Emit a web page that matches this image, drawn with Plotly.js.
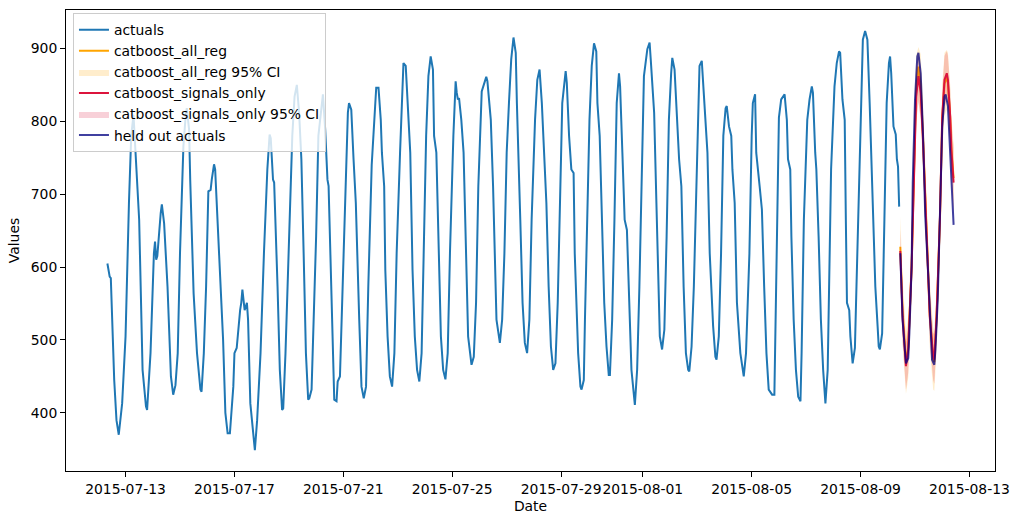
<!DOCTYPE html>
<html>
<head>
<meta charset="utf-8">
<script src="https://cdn.plot.ly/plotly-3.0.1.min.js"></script>
<style>
  html, body { margin: 0; padding: 0; background: #ffffff; }
  #chart { width: 1018px; height: 525px; }
</style>
</head>
<body>
<div id="chart"></div>
<script>
// Hours are counted from 2015-07-13 00:00
const baseDate = Date.UTC(2015, 6, 13, 0, 0, 0);

const actualHours = [-16,-14,-13,-10,-8,-6,-3,0,3,5,7,9,10,12,15,18,19,22,25,26,27,28,31,32,34,37,40,41,42,44,46,48,51,53,54,56,57,60,63,66,67,69,71,73,75,76,78,79,81,84,86,88,90,92,95,96,98,101,102,103,105,107,108,110,114,116,119,122,125,127,128,130,131,134,136,138,139,141,144,147,149,151,153,155,157,159,161,162,164,166,168,170,173,174,176,178,179,182,184,186,187,189,191,194,196,197,199,201,203,206,208,210,212,214,217,220,221,223,225,226,228,229,231,233,235,237,239,242,244,245,247,249,251,253,255,257,259,261,263,265,267,269,271,272,274,276,278,280,282,284,286,289,291,292,293,294,296,298,300,302,305,307,309,311,314,316,318,319,322,324,326,327,330,332,334,336,338,340,342,344,345,346,348,350,352,354,356,358,361,363,365,367,369,371,373,375,377,379,381,383,385,388,389,391,393,395,396,399,401,402,404,405,407,409,411,413,415,416,418,420,422,424,426,427,429,431,433,435,436,438,440,442,444,446,449,451,453,455,457,460,462,463,465,466,468,470,471,473,475,477,479,481,482,484,486,488,490,492,494,496,497,499,501,504,506,508,510,512,513,515,518,520,521,523,525,527,529,530,532,534,535,537,539,542,544,545,547,550,552,553,555,556,559,561,563,565,567,570,572,573,575,576,578,580,581,583,584,586,587,589,591,593,595,596,598,601,603,605,606,608,609,611,613,615,617,619,620,622,625,627,629,630,632,634,635,636,638,639,641,642,643,644,646,648,650,652,654,656,658,661,663,664,665,667,669,671,673,674,675,677,679,680,681,682];
const actualValues = [605,587,585,445,390,370,413,505,688,780,809,757,715,665,459,409,404,482,619,635,610,615,674,686,660,573,450,436,425,438,482,619,766,807,818,789,720,564,482,432,429,482,573,704,706,720,741,734,665,551,500,400,372,372,436,482,489,541,551,569,541,551,528,413,349,390,482,619,734,782,777,720,716,573,459,404,406,482,619,780,834,850,812,748,619,482,418,420,432,528,642,780,830,837,789,720,711,528,418,416,443,450,551,720,812,825,816,748,688,528,436,420,436,573,740,820,846,846,802,757,711,596,505,450,436,482,619,757,848,880,876,825,757,596,505,459,443,482,619,780,862,889,871,780,757,619,505,459,446,482,619,780,855,839,830,832,802,757,619,505,466,477,551,711,841,853,861,855,802,711,573,528,496,528,619,757,825,885,915,894,825,780,665,551,496,482,528,665,802,857,871,825,766,688,573,491,459,468,551,711,825,869,853,780,734,729,619,482,436,432,445,528,665,802,876,907,896,825,780,665,551,491,452,452,528,665,825,866,848,757,665,651,551,459,411,459,573,711,862,899,908,885,825,812,688,551,505,487,514,642,802,866,887,871,802,748,711,573,482,459,457,491,573,757,876,883,825,780,757,619,519,477,473,505,619,780,818,821,793,780,734,688,551,482,455,450,482,619,780,825,837,757,711,679,573,482,432,425,425,510,690,805,830,834,837,802,748,734,642,528,459,422,416,482,665,802,830,848,839,757,734,642,528,459,413,459,573,734,848,880,896,894,830,802,665,551,541,505,468,482,489,551,665,802,912,924,912,825,711,573,519,491,487,509,665,825,880,889,866,793,782,748,738,683];

const heldOutHours = [683,684,685,687,688,690,691,693,694,696,698,699,701,703,705,708,710,711,713,714,716,718,720,722,723,725,727,728,730];
const heldOutValues = [619,578,528,487,468,475,509,601,716,830,889,894,866,784,670,578,509,473,466,487,555,693,793,834,837,821,761,711,658];

const predHours = [683,685,688,690,693,695,697,699,701,703,706,709,712,713,715,718,720,722,724,725,727,728,730];
const allRegPred  = [628,540,470,490,600,740,845,875,850,780,650,535,475,470,530,668,805,852,860,852,805,765,722];
const allRegLower = [585,495,426,448,555,695,800,830,805,735,605,490,432,430,485,622,760,808,816,808,760,722,675];
const allRegUpper = [670,585,512,532,645,785,890,902,892,825,695,580,518,512,575,712,850,894,898,894,850,808,768];
const signalsPred  = [622,532,464,487,601,738,834,862,839,775,647,532,477,473,532,670,807,857,866,857,807,761,716];
const signalsLower = [592,498,432,455,568,702,798,826,803,740,612,498,445,440,498,635,772,820,830,820,770,722,670];
const signalsUpper = [652,567,497,522,637,772,868,895,874,810,682,567,510,508,567,705,842,890,896,890,844,800,764];

const tickDates = ['2015-07-13','2015-07-17','2015-07-21','2015-07-25','2015-07-29','2015-08-01','2015-08-05','2015-08-09','2015-08-13'];
const yTicks = [400,500,600,700,800,900];

function toDate(h) {
  const d = new Date(baseDate + h * 3600000);
  const p = n => String(n).padStart(2, '0');
  return d.getUTCFullYear() + '-' + p(d.getUTCMonth() + 1) + '-' + p(d.getUTCDate()) + ' ' + p(d.getUTCHours()) + ':00';
}

const xa = actualHours.map(toDate);
const xh = heldOutHours.map(toDate);
const xp = predHours.map(toDate);

const font = {family: 'DejaVu Sans', size: 13.9, color: '#000000'};

const traces = [
  {x: xa, y: actualValues, type: 'scatter', mode: 'lines', name: 'actuals',
   line: {color: '#1f77b4', width: 2}},
  {x: xp, y: allRegPred, type: 'scatter', mode: 'lines', name: 'catboost_all_reg',
   line: {color: '#ffa500', width: 2}},
  {x: xp, y: allRegLower, type: 'scatter', mode: 'lines', showlegend: false,
   line: {color: 'rgba(0,0,0,0)', width: 0}, hoverinfo: 'skip'},
  {x: xp, y: allRegUpper, type: 'scatter', mode: 'lines', name: 'catboost_all_reg 95% CI',
   fill: 'tonexty', fillcolor: 'rgba(255,165,0,0.2)',
   line: {color: 'rgba(255,165,0,0.2)', width: 0}},
  {x: xp, y: signalsPred, type: 'scatter', mode: 'lines', name: 'catboost_signals_only',
   line: {color: '#dc143c', width: 2}},
  {x: xp, y: signalsLower, type: 'scatter', mode: 'lines', showlegend: false,
   line: {color: 'rgba(0,0,0,0)', width: 0}, hoverinfo: 'skip'},
  {x: xp, y: signalsUpper, type: 'scatter', mode: 'lines', name: 'catboost_signals_only 95% CI',
   fill: 'tonexty', fillcolor: 'rgba(220,20,60,0.2)',
   line: {color: 'rgba(220,20,60,0.2)', width: 0}},
  {x: xh, y: heldOutValues, type: 'scatter', mode: 'lines', name: 'held out actuals',
   line: {color: 'rgba(0,0,128,0.75)', width: 2}}
];

const layout = {
  width: 1018, height: 525,
  margin: {l: 66, r: 23, t: 10, b: 54},
  paper_bgcolor: '#ffffff', plot_bgcolor: '#ffffff',
  font: font,
  showlegend: true,
  legend: {
    x: 0.0075, y: 0.993, xanchor: 'left', yanchor: 'top',
    traceorder: 'normal',
    bgcolor: 'rgba(255,255,255,0.8)', bordercolor: '#cccccc', borderwidth: 1,
    font: font, itemwidth: 30, tracegroupgap: 0
  },
  xaxis: {
    type: 'date',
    range: ['2015-07-10 19:30', '2015-08-13 22:30'],
    tickvals: tickDates, tickformat: '%Y-%m-%d', tickangle: 0,
    showgrid: false, zeroline: false,
    showline: true, mirror: true, linecolor: '#000000', linewidth: 1,
    ticks: 'outside', ticklen: 5, tickwidth: 1, tickcolor: '#000000',
    tickfont: font,
    title: {text: 'Date', font: font, standoff: 5}
  },
  yaxis: {
    range: [320.25, 952.75],
    tickvals: yTicks,
    showgrid: false, zeroline: false,
    showline: true, mirror: true, linecolor: '#000000', linewidth: 1,
    ticks: 'outside', ticklen: 5, tickwidth: 1, tickcolor: '#000000',
    tickfont: font,
    title: {text: 'Values', font: font, standoff: 7}
  }
};

Plotly.newPlot('chart', traces, layout, {displayModeBar: false, staticPlot: true});
</script>
</body>
</html>
